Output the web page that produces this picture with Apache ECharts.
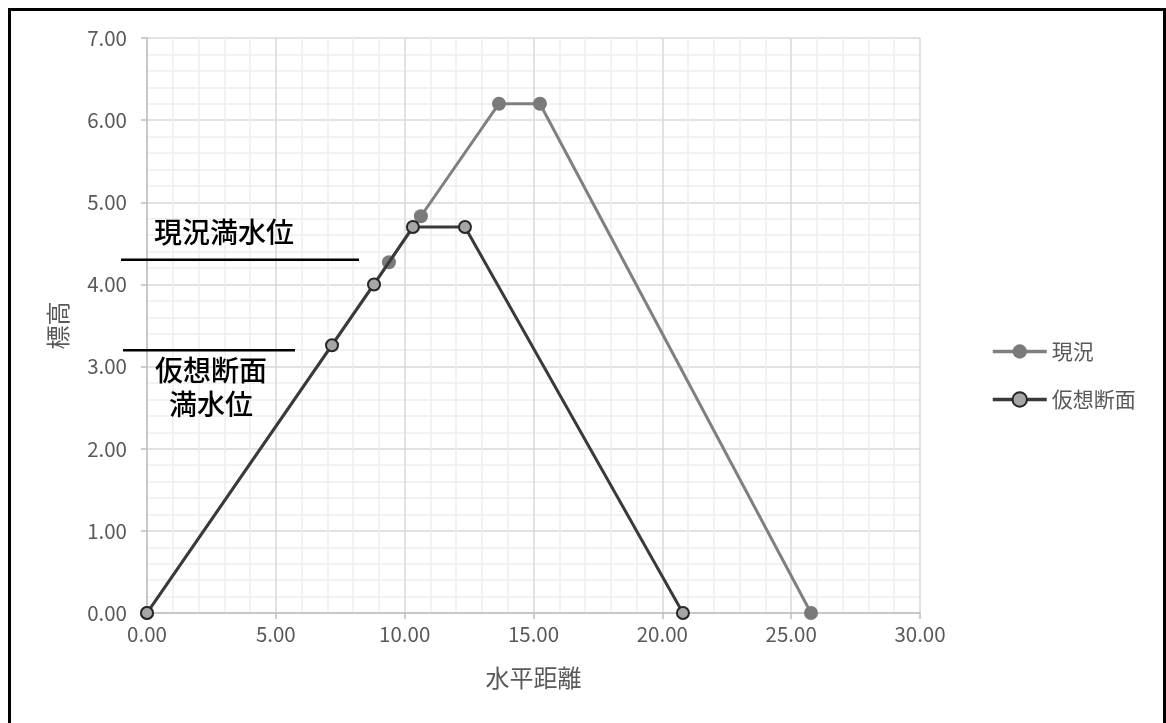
<!DOCTYPE html>
<html>
<head>
<meta charset="utf-8">
<script src="https://cdn.jsdelivr.net/npm/echarts@6/dist/echarts.min.js"></script>
<style>
html,body{margin:0;padding:0;background:#fff;}
#c{width:1166px;height:723px;}
</style>
</head>
<body>
<div id="c"></div>
<script>
// Data
const seriesNames = ['現況', '仮想断面'];
const currentPoints = [[0, 0], [9.39, 4.27], [10.63, 4.83], [13.66, 6.2], [15.25, 6.2], [25.77, 0]];
const virtualPoints = [[0, 0], [7.18, 3.26], [8.81, 4.0], [10.32, 4.7], [12.34, 4.7], [20.8, 0]];
const xAxisName = '水平距離';
const yAxisName = '標高';
const waterLevels = [4.30, 3.20];
const waterLabels = ['現況満水位', '仮想断面\n満水位'];

const FONT = "'Noto Sans CJK JP', 'Noto Sans', sans-serif";
const chart = echarts.init(document.getElementById('c'), null, {renderer: 'canvas'});

const option = {
  backgroundColor: '#ffffff',
  animation: false,
  textStyle: {fontFamily: FONT},
  grid: {left: 147, right: 246, top: 38, bottom: 110, containLabel: false},
  legend: {
    orient: 'vertical',
    left: 986,
    top: 336,
    itemWidth: 54,
    itemHeight: 18,
    itemGap: 27,
    lineStyle: {width: 3.5},
    textStyle: {color: '#595959', fontSize: 21, fontFamily: FONT, lineHeight: 18},
    data: seriesNames
  },
  xAxis: {
    type: 'value',
    min: 0, max: 30, interval: 5,
    name: xAxisName,
    nameLocation: 'middle',
    nameGap: 53,
    nameTextStyle: {color: '#595959', fontSize: 24, fontFamily: FONT},
    axisLine: {show: true, lineStyle: {color: '#bfbfbf', width: 1.5}},
    axisTick: {show: true, length: 6, lineStyle: {color: '#bfbfbf', width: 1.5}},
    axisLabel: {color: '#595959', fontSize: 20.5, margin: 11, fontFamily: FONT,
      formatter: v => v.toFixed(2)},
    splitLine: {show: true, lineStyle: {color: '#d9d9d9', width: 1.5}},
    minorTick: {show: false, splitNumber: 5},
    minorSplitLine: {show: true, lineStyle: {color: '#eeeeee', width: 1.5}}
  },
  yAxis: {
    type: 'value',
    min: 0, max: 7, interval: 1,
    name: yAxisName,
    nameLocation: 'middle',
    nameGap: 77,
    nameRotate: 90,
    nameTextStyle: {color: '#595959', fontSize: 24, fontFamily: FONT},
    axisLine: {show: true, lineStyle: {color: '#bfbfbf', width: 1.5}},
    axisTick: {show: true, length: 6, lineStyle: {color: '#bfbfbf', width: 1.5}},
    axisLabel: {color: '#595959', fontSize: 20.5, margin: 20, fontFamily: FONT,
      formatter: v => v.toFixed(2)},
    splitLine: {show: true, lineStyle: {color: '#d9d9d9', width: 1.5}},
    minorTick: {show: false, splitNumber: 5},
    minorSplitLine: {show: true, lineStyle: {color: '#eeeeee', width: 1.5}}
  },
  series: [
    {
      name: seriesNames[0],
      type: 'line',
      data: currentPoints,
      symbol: 'circle',
      symbolSize: 14,
      lineStyle: {color: '#808080', width: 3},
      itemStyle: {color: '#7a7a7a', borderWidth: 0},
      color: '#808080',
      z: 2
    },
    {
      name: seriesNames[1],
      type: 'line',
      data: virtualPoints,
      symbol: 'circle',
      symbolSize: 12,
      lineStyle: {color: '#3a3a3a', width: 3},
      itemStyle: {color: '#a6a6a6', borderColor: '#262626', borderWidth: 2},
      color: '#3a3a3a',
      z: 3
    }
  ]
};
chart.setOption(option);

const y1 = chart.convertToPixel({yAxisIndex: 0}, waterLevels[0]);
const y2 = chart.convertToPixel({yAxisIndex: 0}, waterLevels[1]);

chart.setOption({
  graphic: [
    {type: 'rect', shape: {x: 9.5, y: 9.5, width: 1155, height: 800},
      style: {fill: null, stroke: '#000', lineWidth: 3}, silent: true, z: 100},
    {type: 'line', shape: {x1: 121, y1: y1, x2: 359, y2: y1},
      style: {stroke: '#000', lineWidth: 2.5}, z: 50},
    {type: 'line', shape: {x1: 123, y1: y2, x2: 295, y2: y2},
      style: {stroke: '#000', lineWidth: 2.5}, z: 50},
    {type: 'text', x: 154, y: y1 - 27, z: 50,
      style: {text: waterLabels[0], fill: '#000', font: "500 28px " + FONT,
        textAlign: 'left', textVerticalAlign: 'middle'}},
    {type: 'text', x: 211, y: y2 + 37, z: 50,
      style: {text: waterLabels[1], fill: '#000', font: "500 28px " + FONT,
        textAlign: 'center', textVerticalAlign: 'middle', lineHeight: 34}}
  ]
});
</script>
</body>
</html>
